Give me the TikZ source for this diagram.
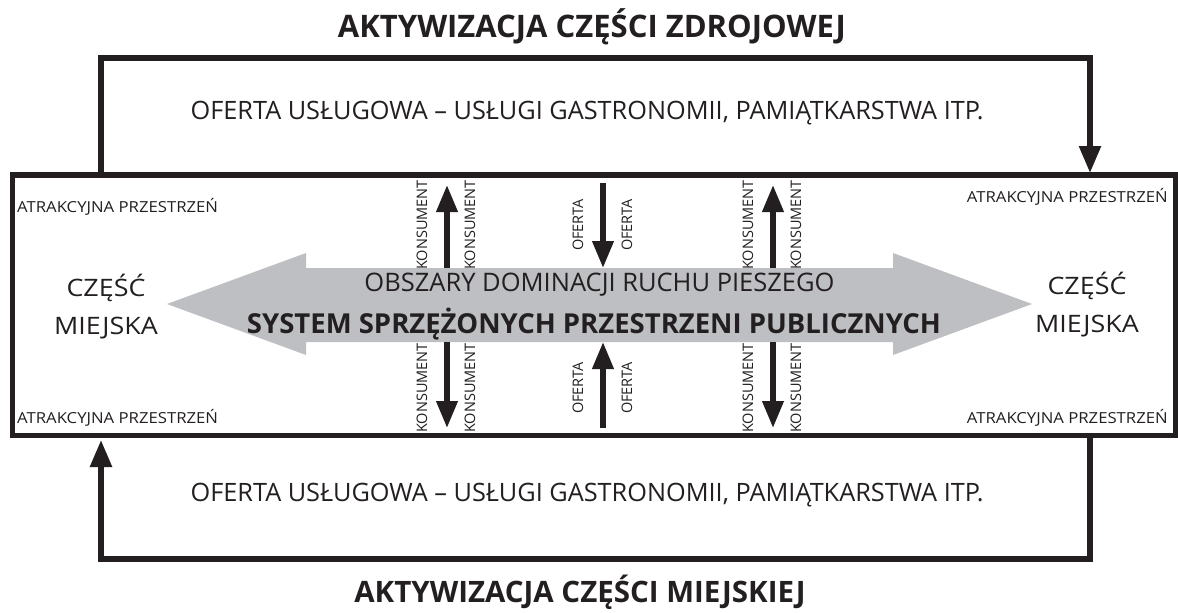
\documentclass[tikz,border=0pt]{standalone}
\usepackage{fontspec}
\setmainfont{Open Sans}
\usetikzlibrary{arrows.meta}
\definecolor{ink}{HTML}{231F20}
\definecolor{arrowgrey}{HTML}{BDBFC3}
\begin{document}
\begin{tikzpicture}[x=1pt,y=-1pt,
  thickline/.style={draw=ink,line width=5.5pt},
  bigtip/.style={-{Triangle[length=27pt,width=21pt]}},
  smalltip/.style={-{Triangle[length=27pt,width=20.5pt]}},
  title/.style={font=\fontsize{31}{34}\selectfont\bfseries,text=ink,inner sep=0pt},
  offer/.style={font=\fontsize{25.3}{28}\selectfont,text=ink,inner sep=0pt},
  side/.style={font=\fontsize{24}{38}\selectfont,text=ink,align=center,xscale=1.12,inner sep=0pt},
  attr/.style={font=\fontsize{15.2}{17}\selectfont,text=ink,xscale=1.1,inner sep=0pt},
  vlab/.style={font=\fontsize{14.5}{16}\selectfont,text=ink,rotate=90,inner sep=0pt},
  mid/.style={font=\fontsize{25.5}{28}\selectfont,text=ink,inner sep=0pt},
  midb/.style={font=\fontsize{27.5}{30}\selectfont\bfseries,text=ink,inner sep=0pt}]
\useasboundingbox (0,0) rectangle (1178,613);
\fill[white] (0,0) rectangle (1178,613);
% main box
\coordinate (bNW) at (12.5,175);
\coordinate (bSE) at (1175.5,435.5);
\draw[thickline] (bNW) rectangle (bSE);
% titles
\node[title] (t1) at (592,27) {AKTYWIZACJA CZĘŚCI ZDROJOWEJ};
\node[title,font=\fontsize{29.5}{34}\selectfont\bfseries] (t2) at (580,592) {AKTYWIZACJA CZĘŚCI MIEJSKIEJ};
\node[offer] (o1) at (587,113) {OFERTA USŁUGOWA – USŁUGI GASTRONOMII, PAMIĄTKARSTWA ITP.};
\node[offer] (o2) at (587,495) {OFERTA USŁUGOWA – USŁUGI GASTRONOMII, PAMIĄTKARSTWA ITP.};
% top loop
\coordinate (ts) at (101,175);
\coordinate (tc1) at (101,58);
\coordinate (tc2) at (1090,58);
\coordinate (te) at (1090,173);
\draw[thickline,bigtip] (ts) -- (tc1) -- (tc2) -- (te);
% bottom loop
\coordinate (bs) at (1090,435);
\coordinate (bc1) at (1090,559);
\coordinate (bc2) at (101,559);
\coordinate (be) at (101,440);
\draw[thickline,bigtip] (bs) -- (bc1) -- (bc2) -- (be);
% grey double arrow
\fill[arrowgrey] (167,304) -- (306,253) -- (306,268) -- (893,268) -- (893,253)
  -- (1032,304) -- (893,355) -- (893,342) -- (306,342) -- (306,355) -- cycle;
\node[mid] (m1) at (599.5,285) {OBSZARY DOMINACJI RUCHU PIESZEGO};
\node[midb] (m2) at (594,324) {SYSTEM SPRZĘŻONYCH PRZESTRZENI PUBLICZNYCH};
% side labels
\node[side] (l) at (106,307) {CZĘŚĆ\\MIEJSKA};
\node[side] (r) at (1087,305) {CZĘŚĆ\\MIEJSKA};
\node[attr,anchor=west] (a1) at (17,207) {ATRAKCYJNA PRZESTRZEŃ};
\node[attr,anchor=west] (a2) at (17,418) {ATRAKCYJNA PRZESTRZEŃ};
\node[attr,anchor=east] (a3) at (1168,197) {ATRAKCYJNA PRZESTRZEŃ};
\node[attr,anchor=east] (a4) at (1168,418) {ATRAKCYJNA PRZESTRZEŃ};
% vertical arrows
\foreach \x/\n in {447/k1,773/k2}{
  \coordinate (\n top) at (\x,268);
  \coordinate (\n tt) at (\x,185);
  \coordinate (\n bot) at (\x,342);
  \coordinate (\n bb) at (\x,428);
  \draw[thickline,smalltip] (\n top) -- (\n tt);
  \draw[thickline,smalltip] (\n bot) -- (\n bb);
  \node[vlab] (\n a) at (\x-25,225) {KONSUMENT};
  \node[vlab] (\n b) at (\x+23,225) {KONSUMENT};
  \node[vlab] (\n c) at (\x-25,388) {KONSUMENT};
  \node[vlab] (\n d) at (\x+23,388) {KONSUMENT};
}
\coordinate (of1) at (603,183);
\coordinate (of2) at (603,268);
\coordinate (of3) at (603,428);
\coordinate (of4) at (603,342);
\draw[thickline,smalltip] (of1) -- (of2);
\draw[thickline,smalltip] (of3) -- (of4);
\node[vlab] (ofa) at (578,225) {OFERTA};
\node[vlab] (ofb) at (627,225) {OFERTA};
\node[vlab] (ofc) at (578,388) {OFERTA};
\node[vlab] (ofd) at (627,388) {OFERTA};
\end{tikzpicture}
\end{document}
